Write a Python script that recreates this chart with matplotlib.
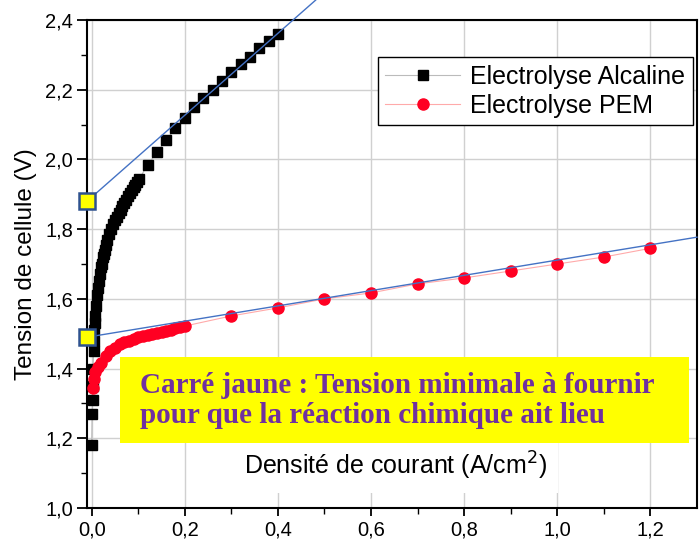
import numpy as np
import matplotlib.pyplot as plt
from matplotlib.patches import Rectangle

# Alkaline electrolysis: dense low-current part, then discrete points
alc_x = [0.000, 0.001, 0.002, 0.002, 0.003, 0.004, 0.005, 0.006, 0.007, 0.008,
         0.010, 0.012, 0.014, 0.016, 0.018, 0.020, 0.022, 0.024, 0.026, 0.028,
         0.031, 0.034, 0.038, 0.042, 0.046, 0.050, 0.054, 0.058, 0.062, 0.066,
         0.070, 0.074, 0.078, 0.082, 0.086, 0.090, 0.094, 0.098, 0.102,
         0.12, 0.14, 0.16, 0.18, 0.20, 0.22, 0.24, 0.26, 0.28, 0.30,
         0.32, 0.34, 0.36, 0.38, 0.40]
alc_y = [1.18, 1.27, 1.31, 1.35, 1.40, 1.45, 1.48, 1.51, 1.53, 1.55,
         1.58, 1.61, 1.63, 1.65, 1.67, 1.69, 1.70, 1.72, 1.73, 1.74,
         1.755, 1.77, 1.785, 1.80, 1.815, 1.825, 1.835, 1.845, 1.855, 1.865,
         1.875, 1.885, 1.895, 1.905, 1.912, 1.92, 1.928, 1.935, 1.943,
         1.985, 2.02, 2.055, 2.09, 2.12, 2.15, 2.175, 2.20, 2.225, 2.25,
         2.275, 2.295, 2.32, 2.34, 2.36]

# PEM electrolysis
pem_x = [0.002, 0.004, 0.008, 0.014, 0.021, 0.030, 0.040, 0.050, 0.060, 0.070,
         0.080, 0.090, 0.100, 0.110, 0.120, 0.130, 0.140, 0.150, 0.160, 0.170,
         0.180, 0.190, 0.200,
         0.3, 0.4, 0.5, 0.6, 0.7, 0.8, 0.9, 1.0, 1.1, 1.2]
pem_y = [1.345, 1.37, 1.39, 1.405, 1.417, 1.435, 1.45, 1.46, 1.47, 1.475,
         1.48, 1.485, 1.49, 1.493, 1.497, 1.50, 1.503, 1.506, 1.509, 1.512,
         1.515, 1.518, 1.522,
         1.551, 1.574, 1.60, 1.617, 1.643, 1.66, 1.68, 1.70, 1.72, 1.745]

# yellow squares (minimum voltage) and the blue tangent lines
square_v = [1.88, 1.49]
tangent_alc_x = [-0.01, 0.481]
tangent_alc_y = [1.88, 2.457]
tangent_pem_x = [-0.01, 1.30]
tangent_pem_y = [1.49, 1.777]

xticks = [0.0, 0.2, 0.4, 0.6, 0.8, 1.0, 1.2]
xtick_labels = ["0,0", "0,2", "0,4", "0,6", "0,8", "1,0", "1,2"]
yticks = [1.0, 1.2, 1.4, 1.6, 1.8, 2.0, 2.2, 2.4]
ytick_labels = ["1,0", "1,2", "1,4", "1,6", "1,8", "2,0", "2,2", "2,4"]

plt.rcParams['font.family'] = ['Liberation Sans', 'DejaVu Sans']

fig = plt.figure(figsize=(6.99, 5.43), dpi=100)
ax = fig.add_axes([87 / 699, 1 - 508 / 543, 610 / 699, 488 / 543])

ax.plot(alc_x, alc_y, color='#bbbbbb', lw=0.8, marker='s', ms=7.5,
        mfc='black', mec='black', label='Electrolyse Alcaline', zorder=3)
ax.plot(pem_x, pem_y, color='#ffaaaa', lw=0.8, marker='o', ms=8,
        mfc='#ff0022', mec='#ff0022', label='Electrolyse PEM', zorder=3)

ax.set_xlim(-0.01, 1.30)
ax.set_ylim(1.0, 2.4)
ax.set_xticks(xticks)
ax.set_xticklabels(xtick_labels)
ax.set_yticks(yticks)
ax.set_yticklabels(ytick_labels)
ax.set_xticks(np.arange(0.1, 1.3, 0.2), minor=True)
ax.set_yticks(np.arange(1.1, 2.4, 0.2), minor=True)
ax.tick_params(which='major', direction='out', length=7, width=1.3, labelsize=14.5, pad=3)
ax.tick_params(which='minor', direction='out', length=4, width=1.0)
ax.tick_params(axis='x', which='major', length=6, pad=3)
ax.grid(True, which='major', color='#d0d0d0', lw=1.0)
for s in ax.spines.values():
    s.set_linewidth(1.5)

ax.set_ylabel("Tension de cellule (V)", fontsize=17.5, labelpad=6)

# x label sits inside the axes on a white patch
ax.text(0.505, 0.086, "Densité de courant (A/cm$^2$)", transform=ax.transAxes,
        ha='center', va='center', fontsize=18, zorder=5,
        bbox=dict(facecolor='white', edgecolor='none', pad=8))

ax.legend(loc='upper right', bbox_to_anchor=(0.993, 0.924), fontsize=18,
          frameon=True, fancybox=False, edgecolor='black', framealpha=1,
          handlelength=3.0, handletextpad=0.4, borderpad=0.3, labelspacing=0.2,
          borderaxespad=0)

# tangent lines and yellow squares
ax.plot(tangent_alc_x, tangent_alc_y, color='#4472C4', lw=1.0, clip_on=False, zorder=4)
ax.plot(tangent_pem_x, tangent_pem_y, color='#4472C4', lw=1.0, clip_on=False, zorder=4)
ax.plot([-0.01] * len(square_v), square_v, ls='none', marker='s', ms=12,
        mfc='#FFFF00', mec='#2F528F', mew=1.8, clip_on=False, zorder=6)

# yellow annotation box
ax.add_patch(Rectangle((0.054, 0.133), 0.933, 0.176, transform=ax.transAxes,
                       facecolor='#FFFF00', edgecolor='none', zorder=7))
ax.text(0.087, 0.221, "Carré jaune : Tension minimale à fournir\npour que la réaction chimique ait lieu",
        transform=ax.transAxes, ha='left', va='center', fontsize=21,
        family=['Liberation Serif', 'DejaVu Serif'], fontweight='bold',
        color='#7030A0', linespacing=1.15, zorder=8)

fig.savefig("out.png", dpi=100)
